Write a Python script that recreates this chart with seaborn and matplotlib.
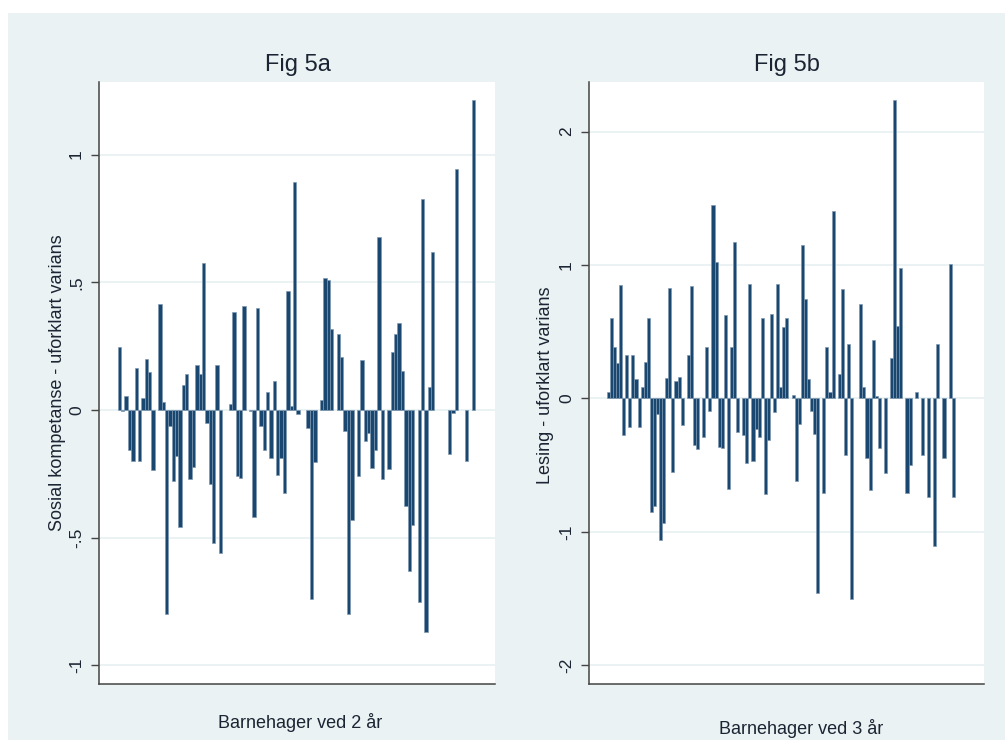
import numpy as np
import pandas as pd
import matplotlib
matplotlib.use("Agg")
import matplotlib.pyplot as plt
from matplotlib.patches import Rectangle
import seaborn as sns

# ---- data (None = no bar) ----
left_values = [0.248, -0.006, 0.054, -0.155, -0.2, 0.165, -0.2, 0.048, 0.2, 0.147,
               -0.234, None, 0.414, 0.03, -0.8, -0.062, -0.278, -0.18, -0.46, 0.098,
               0.141, -0.272, -0.222, 0.176, 0.141, 0.577, -0.05, -0.29, -0.52, 0.176,
               -0.56, None, None, 0.025, 0.383, -0.26, -0.267, 0.408, None, -0.003,
               -0.42, 0.398, -0.062, -0.155, 0.07, -0.19, 0.114, -0.255, -0.19, -0.327,
               0.467, 0.015, 0.892, -0.015, None, None, -0.072, -0.74, -0.204, None,
               0.038, 0.517, 0.509, 0.315, None, 0.299, 0.209, -0.083, -0.8, -0.43,
               None, -0.26, 0.194, -0.12, -0.09, -0.227, -0.155, 0.677, -0.27, None,
               -0.233, 0.227, 0.299, 0.342, 0.153, -0.377, -0.632, -0.452, None, -0.75,
               0.824, -0.868, 0.089, 0.62, None, None, None, None, -0.173, -0.012,
               0.943, None, None, -0.2, None, 1.215]

right_values = [0.049, 0.6, 0.387, 0.264, 0.851, -0.275, 0.327, -0.212, 0.327, 0.143,
                -0.212, 0.083, 0.27, 0.6, -0.848, -0.805, -0.117, -1.06, -0.934, 0.155,
                0.831, -0.553, 0.132, 0.163, -0.2, None, 0.327, 0.845, -0.352, -0.381,
                None, -0.287, 0.387, -0.097, 1.447, 1.02, -0.361, -0.372, 0.622, -0.676,
                0.387, 1.172, -0.252, None, -0.275, -0.487, 0.86, -0.467, -0.232, -0.287,
                0.599, -0.716, -0.315, 0.63, -0.103, 0.86, 0.083, 0.536, 0.6, None,
                0.026, -0.616, -0.195, 1.152, 0.745, 0.143, -0.097, -0.266, -1.456, None,
                -0.71, 0.387, 0.049, 1.404, None, 0.183, 0.822, -0.424, 0.407, -1.5,
                None, None, 0.708, 0.083, -0.447, -0.688, 0.441, 0.02, -0.372, None,
                -0.56, None, 0.3, 2.235, 0.544, 0.98, None, -0.71, -0.498, None,
                0.049, None, -0.424, None, -0.74, None, -1.103, 0.407, None, -0.447,
                None, 1.009, -0.74]

left_ticks = [-1, -0.5, 0, 0.5, 1]
left_ticklabels = ["-1", "-.5", "0", ".5", "1"]
right_ticks = [-2, -1, 0, 1, 2]
right_ticklabels = ["-2", "-1", "0", "1", "2"]

titles = ["Fig 5a", "Fig 5b"]
xlabels = ["Barnehager ved 2 år", "Barnehager ved 3 år"]
ylabels = ["Sosial kompetanse - uforklart varians", "Lesing - uforklart varians"]

# ---- style ----
sns.set_theme(style="white")
plt.rcParams['font.family'] = ['Liberation Sans Narrow', 'Liberation Sans', 'DejaVu Sans']

BG = "#EAF2F3"
BAR = "#1A476F"
TXT = "#1b2433"
AX = "#444444"

W, H = 1005, 740
fig = plt.figure(figsize=(W / 100, H / 100), dpi=100)
fig.patch.set_facecolor("white")
fig.patches.append(Rectangle((8 / W, 0), 1 - 8 / W, 1 - 13 / H, transform=fig.transFigure,
                             facecolor=BG, edgecolor="none", zorder=-10))


def px_rect(x0, x1, y0, y1):
    return [x0 / W, 1 - y1 / H, (x1 - x0) / W, (y1 - y0) / H]


panels = [
    dict(vals=left_values, rect=px_rect(99.3, 494.8, 81.7, 684.3), xlim=(-5.96, 111.4),
         ylim=(-1.074, 1.285), ticks=left_ticks, tl=left_ticklabels,
         title_xy=(298, 65), xlab_xy=(300, 722), ylab_xy=(57, 383)),
    dict(vals=right_values, rect=px_rect(589.3, 984.0, 81.7, 684.3), xlim=(-6.15, 122.0),
         ylim=(-2.143, 2.374), ticks=right_ticks, tl=right_ticklabels,
         title_xy=(787, 65), xlab_xy=(801, 728), ylab_xy=(545, 385)),
]

for i, p in enumerate(panels):
    ax = fig.add_axes(p["rect"])
    ax.set_facecolor("white")
    df = pd.DataFrame({"pos": np.arange(len(p["vals"])),
                       "val": pd.to_numeric(pd.Series(p["vals"]), errors="coerce")}).dropna()
    sns.barplot(data=df, x="pos", y="val", native_scale=True, width=1.0, color=BAR,
                saturation=1, errorbar=None, edgecolor="#7d98b0", linewidth=0.45, ax=ax,
                zorder=3)
    ax.set_xlim(*p["xlim"])
    ax.set_ylim(*p["ylim"])
    ax.set_xticks([])
    ax.set_yticks(p["ticks"])
    ax.set_yticklabels(p["tl"])
    ax.set_xlabel("")
    ax.set_ylabel("")
    for t in p["ticks"]:
        ax.axhline(t, color=BG, lw=1.4, zorder=1)
    for s in ["top", "right"]:
        ax.spines[s].set_visible(False)
    for s in ["left", "bottom"]:
        ax.spines[s].set_visible(True)
        ax.spines[s].set_color(AX)
        ax.spines[s].set_linewidth(1.1)
    ax.tick_params(axis="y", left=True, length=6, width=1.0, color=AX, pad=5,
                   labelsize=12.5, labelcolor=TXT)
    for lab in ax.get_yticklabels():
        lab.set_rotation(90)
        lab.set_va("center")
        lab.set_ha("right")
    fig.text(p["title_xy"][0] / W, 1 - p["title_xy"][1] / H, titles[i], ha="center",
             va="center", fontsize=17, color=TXT)
    fig.text(p["xlab_xy"][0] / W, 1 - p["xlab_xy"][1] / H, xlabels[i], ha="center",
             va="center", fontsize=13, color=TXT)
    fig.text(p["ylab_xy"][0] / W, 1 - p["ylab_xy"][1] / H, ylabels[i], ha="center",
             va="center", rotation=90, fontsize=13, color=TXT)

fig.savefig("out.png", dpi=100, facecolor=fig.get_facecolor())
